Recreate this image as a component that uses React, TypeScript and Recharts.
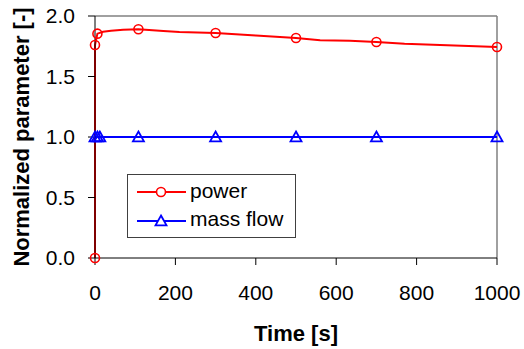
import React from "react";
import {
  ComposedChart,
  Line,
  XAxis,
  YAxis,
  ReferenceLine,
} from "recharts";

// Time [s] and normalized power (m = show marker)
const powerTime = [0, 0, 6, 20, 40, 70, 108, 170, 210, 300, 400, 500, 560, 634, 700, 770, 841, 1000];
const powerValue = [0, 1.76, 1.854, 1.87, 1.879, 1.886, 1.89, 1.876, 1.868, 1.86, 1.838, 1.818, 1.8, 1.796, 1.785, 1.77, 1.763, 1.744];
const powerMarker = [1, 1, 1, 0, 0, 0, 1, 0, 0, 1, 0, 1, 0, 0, 1, 0, 0, 1];

const flowTime = [0, 6, 12, 108, 300, 500, 700, 1000];
const flowValue = [1, 1, 1, 1, 1, 1, 1, 1];

const xTicks = [0, 200, 400, 600, 800, 1000];
const yTicks = [0, 0.5, 1.0, 1.5, 2.0];

const seriesNames = ["power", "mass flow"];

const powerData = powerTime.map((x, i) => ({ x, y: powerValue[i], m: powerMarker[i] === 1 }));
const flowData = flowTime.map((x, i) => ({ x, y: flowValue[i], m: true }));

const FONT = "'Liberation Sans', Arial, sans-serif";

const CircleDot = (props: any) => {
  const { cx, cy, payload, index } = props;
  if (!payload || !payload.m || cx == null || cy == null) return <g key={`c${index}`} />;
  return <circle key={`c${index}`} cx={cx} cy={cy} r={4.5} fill="none" stroke="#ff0000" strokeWidth={1.6} />;
};

const TriDot = (props: any) => {
  const { cx, cy, index } = props;
  if (cx == null || cy == null) return <g key={`t${index}`} />;
  const s = 5.5;
  return (
    <path
      key={`t${index}`}
      d={`M${cx},${cy - s} L${cx + s},${cy + s * 0.8} L${cx - s},${cy + s * 0.8} Z`}
      fill="none"
      stroke="#0000ff"
      strokeWidth={1.8}
    />
  );
};

const LegendBox = () => (
  <div
    style={{
      position: "absolute",
      left: 127,
      top: 174,
      width: 167,
      height: 62,
      border: "1px solid #404040",
      background: "#fff",
      fontFamily: FONT,
      fontSize: 21,
      color: "#000",
    }}
  >
    <svg width={60} height={62} style={{ position: "absolute", left: 0, top: 0 }}>
      <line x1={9} x2={58} y1={17} y2={17} stroke="#ff0000" strokeWidth={2} />
      <circle cx={33} cy={17} r={4.5} fill="#fff" stroke="#ff0000" strokeWidth={1.6} />
      <line x1={9} x2={58} y1={46} y2={46} stroke="#0000ff" strokeWidth={2} />
      <path d="M33,40.5 L38.5,50.4 L27.5,50.4 Z" fill="#fff" stroke="#0000ff" strokeWidth={1.8} />
    </svg>
    <div style={{ position: "absolute", left: 62, top: 3, lineHeight: "26px" }}>{seriesNames[0]}</div>
    <div style={{ position: "absolute", left: 62, top: 31, lineHeight: "26px" }}>{seriesNames[1]}</div>
  </div>
);

export default function App() {
  return (
    <div style={{ position: "absolute", left: 0, top: 0, width: 524, height: 349, background: "#fff" }}>
      <ComposedChart width={524} height={349} margin={{ top: 16, right: 27, bottom: 0, left: 0 }}>
        <XAxis
          dataKey="x"
          type="number"
          domain={[0, 1000]}
          ticks={xTicks}
          height={91}
          tickSize={7}
          tickMargin={20}
          axisLine={{ stroke: "#000", strokeWidth: 1 }}
          tickLine={{ stroke: "#000" }}
          tick={{ fill: "#000", fontSize: 21, fontFamily: FONT }}
          interval={0}
          label={{
            value: "Time [s]",
            position: "insideBottom",
            offset: 8,
            fill: "#000",
            fontSize: 22,
            fontWeight: "bold",
            fontFamily: FONT,
          }}
        />
        <YAxis
          type="number"
          domain={[0, 2]}
          ticks={yTicks}
          width={95}
          tickSize={7}
          tickMargin={13}
          interval={0}
          tickFormatter={(v: number) => v.toFixed(1)}
          axisLine={{ stroke: "#000", strokeWidth: 1 }}
          tickLine={{ stroke: "#000" }}
          tick={{ fill: "#000", fontSize: 21, fontFamily: FONT }}
          label={{
            value: "Normalized parameter [-]",
            angle: -90,
            position: "insideLeft",
            offset: 21,
            fill: "#000",
            fontSize: 22,
            fontWeight: "bold",
            fontFamily: FONT,
            style: { textAnchor: "middle" },
          }}
        />
        <ReferenceLine y={2} stroke="#808080" strokeWidth={1.5} ifOverflow="visible" />
        <ReferenceLine x={1000} stroke="#808080" strokeWidth={1.5} ifOverflow="visible" />
        <Line
          data={powerData}
          dataKey="y"
          name={seriesNames[0]}
          type="linear"
          stroke="#ff0000"
          strokeWidth={2}
          dot={CircleDot}
          activeDot={false}
          isAnimationActive={false}
        />
        <Line
          data={flowData}
          dataKey="y"
          name={seriesNames[1]}
          type="linear"
          stroke="#0000ff"
          strokeWidth={2}
          dot={TriDot}
          activeDot={false}
          isAnimationActive={false}
        />
      </ComposedChart>
      <LegendBox />
    </div>
  );
}
